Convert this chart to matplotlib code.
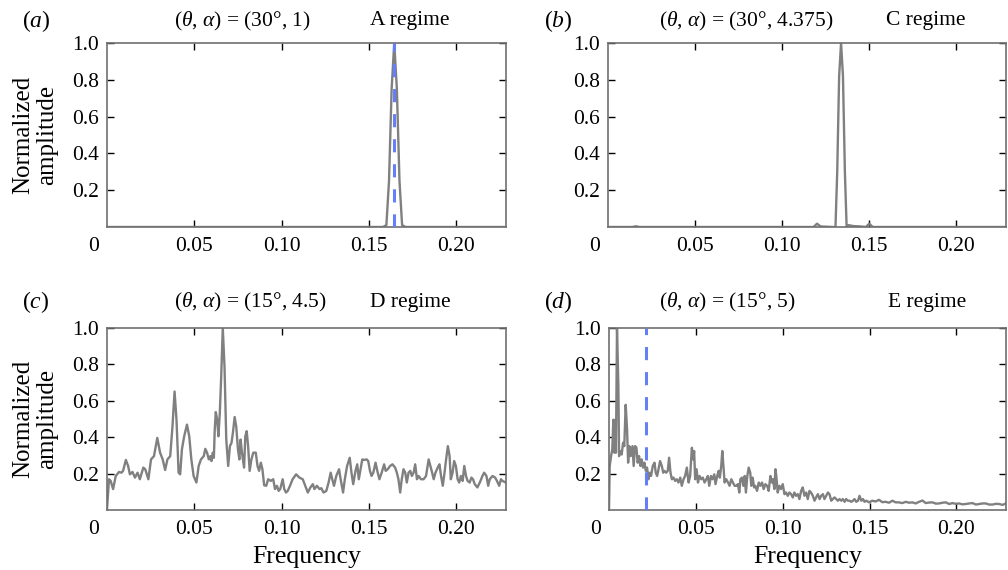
import numpy as np
import matplotlib
matplotlib.use("Agg")
import matplotlib.pyplot as plt

plt.rcParams['font.family'] = ['Liberation Serif', 'DejaVu Serif']
plt.rcParams['mathtext.fontset'] = 'custom'
plt.rcParams['mathtext.rm'] = 'Liberation Serif'
plt.rcParams['mathtext.it'] = 'Liberation Serif:italic'

# ---------------- data ----------------
# (a) 30 deg, alpha = 1 : single sharp peak
freq_a = [0.0, 0.1580, 0.1600, 0.1615, 0.1630, 0.1645, 0.1660, 0.1675, 0.1690, 0.1710, 0.2285]
amp_a = [0.0, 0.0, 0.01, 0.25, 0.75, 1.0, 0.75, 0.25, 0.01, 0.0, 0.0]
mark_a = 0.1645

# (b) 30 deg, alpha = 4.375
freq_b = [0.0, 0.0140, 0.0160, 0.0180, 0.0300, 0.1180, 0.1200, 0.1220, 0.1290, 0.1306,
          0.1316, 0.1327, 0.1338, 0.1349, 0.1360, 0.1370, 0.1380, 0.1410, 0.1450, 0.1480,
          0.1500, 0.1520, 0.2285]
amp_b = [0.0, 0.0, 0.004, 0.0, 0.0, 0.0, 0.018, 0.003, 0.0, 0.0,
         0.30, 0.82, 1.0, 0.82, 0.30, 0.0, 0.01, 0.005, 0.003, 0.0,
         0.018, 0.0, 0.0]

# (c) 15 deg, alpha = 4.5
freq_c = [0.0, 0.00115, 0.0021, 0.0035, 0.0050, 0.0069, 0.0083, 0.0092, 0.0108, 0.0121,
          0.0131, 0.0146, 0.0160, 0.0175, 0.0188, 0.0208, 0.0219, 0.0237, 0.0252, 0.0269,
          0.0288, 0.0304, 0.0319, 0.0333, 0.0346, 0.0362, 0.0375, 0.0387, 0.0398, 0.0410,
          0.0419, 0.0429, 0.0442, 0.0458, 0.0471, 0.0483, 0.0496, 0.0512, 0.0525, 0.0538,
          0.0554, 0.0563, 0.0573, 0.0583, 0.0592, 0.0598, 0.0606, 0.0612, 0.0617, 0.0623,
          0.0631, 0.0638, 0.0646, 0.0654, 0.0663, 0.0673, 0.0683, 0.0694, 0.0704, 0.0713,
          0.0721, 0.0731, 0.0740, 0.0750, 0.0758, 0.0765, 0.0773, 0.0785, 0.0792, 0.0800,
          0.0808, 0.0817, 0.0827, 0.0838, 0.0852, 0.0862, 0.0871, 0.0881, 0.0890, 0.0900,
          0.0912, 0.0923, 0.0938, 0.0952, 0.0962, 0.0973, 0.0983, 0.0992, 0.1006, 0.1015,
          0.1025, 0.1035, 0.1048, 0.1063, 0.1083, 0.1102, 0.1121, 0.1135, 0.1150, 0.1165,
          0.1179, 0.1188, 0.1202, 0.1217, 0.1227, 0.1240, 0.1256, 0.1269, 0.1281, 0.1290,
          0.1300, 0.1313, 0.1329, 0.1338, 0.1352, 0.1362, 0.1375, 0.1390, 0.1400, 0.1410,
          0.1423, 0.1433, 0.1442, 0.1452, 0.1462, 0.1473, 0.1487, 0.1496, 0.1506, 0.1515,
          0.1525, 0.1538, 0.1548, 0.1560, 0.1573, 0.1587, 0.1596, 0.1608, 0.1621, 0.1635,
          0.1650, 0.1660, 0.1669, 0.1679, 0.1688, 0.1698, 0.1708, 0.1717, 0.1727, 0.1737,
          0.1746, 0.1756, 0.1765, 0.1775, 0.1785, 0.1798, 0.1813, 0.1827, 0.1842, 0.1852,
          0.1862, 0.1871, 0.1881, 0.1894, 0.1904, 0.1913, 0.1923, 0.1933, 0.1942, 0.1952,
          0.1962, 0.1969, 0.1979, 0.1988, 0.1998, 0.2008, 0.2017, 0.2027, 0.2037, 0.2046,
          0.2056, 0.2065, 0.2077, 0.2087, 0.2096, 0.2106, 0.2121, 0.2135, 0.2150, 0.2160,
          0.2173, 0.2183, 0.2192, 0.2208, 0.2223, 0.2233, 0.2246, 0.2256, 0.2265, 0.2285]
amp_c = [0.005, 0.169, 0.160, 0.115, 0.187, 0.209, 0.205, 0.215, 0.275, 0.242,
         0.196, 0.209, 0.178, 0.205, 0.169, 0.233, 0.224, 0.169, 0.278, 0.296,
         0.396, 0.315, 0.278, 0.220, 0.278, 0.296, 0.460, 0.651, 0.496, 0.205,
         0.196, 0.333, 0.405, 0.469, 0.405, 0.278, 0.187, 0.151, 0.242, 0.278,
         0.296, 0.336, 0.315, 0.278, 0.296, 0.269, 0.315, 0.287, 0.442, 0.538,
         0.496, 0.405, 0.533, 0.733, 1.000, 0.787, 0.387, 0.242, 0.351, 0.369,
         0.424, 0.511, 0.460, 0.333, 0.278, 0.387, 0.315, 0.233, 0.405, 0.433,
         0.351, 0.215, 0.278, 0.315, 0.315, 0.242, 0.215, 0.260, 0.224, 0.136,
         0.133, 0.169, 0.160, 0.169, 0.115, 0.133, 0.105, 0.115, 0.169, 0.115,
         0.096, 0.105, 0.133, 0.169, 0.196, 0.178, 0.169, 0.133, 0.096, 0.124,
         0.142, 0.115, 0.133, 0.115, 0.120, 0.096, 0.105, 0.151, 0.205, 0.169,
         0.133, 0.187, 0.224, 0.169, 0.096, 0.169, 0.242, 0.287, 0.205, 0.142,
         0.215, 0.251, 0.169, 0.224, 0.278, 0.275, 0.278, 0.269, 0.215, 0.187,
         0.205, 0.260, 0.215, 0.169, 0.205, 0.251, 0.215, 0.224, 0.242, 0.251,
         0.233, 0.205, 0.169, 0.096, 0.169, 0.224, 0.205, 0.151, 0.205, 0.215,
         0.187, 0.205, 0.251, 0.169, 0.187, 0.169, 0.169, 0.187, 0.278, 0.242,
         0.205, 0.169, 0.205, 0.233, 0.251, 0.187, 0.133, 0.205, 0.278, 0.351,
         0.296, 0.169, 0.205, 0.269, 0.242, 0.169, 0.151, 0.187, 0.160, 0.242,
         0.187, 0.160, 0.151, 0.178, 0.169, 0.142, 0.124, 0.151, 0.187, 0.205,
         0.187, 0.133, 0.169, 0.187, 0.178, 0.160, 0.133, 0.169, 0.160, 0.150]

# (d) 15 deg, alpha = 5
freq_d = [0.0, 0.0004, 0.0012, 0.0019, 0.0025, 0.0031, 0.0037, 0.0040, 0.0046, 0.0054,
          0.0058, 0.0065, 0.0073, 0.0081, 0.0088, 0.0096, 0.0104, 0.0110, 0.0117, 0.0125,
          0.0135, 0.0142, 0.0150, 0.0158, 0.0165, 0.0173, 0.0181, 0.0188, 0.0196, 0.0204,
          0.0212, 0.0219, 0.0227, 0.0235, 0.0242, 0.0252, 0.0262, 0.0269, 0.0277, 0.0285,
          0.0294, 0.0304, 0.0312, 0.0319, 0.0329, 0.0338, 0.0346, 0.0354, 0.0362, 0.0371,
          0.0381, 0.0390, 0.0400, 0.0410, 0.0419, 0.0429, 0.0438, 0.0448, 0.0458, 0.0467,
          0.0477, 0.0485, 0.0490, 0.0496, 0.0504, 0.0512, 0.0521, 0.0531, 0.0540, 0.0550,
          0.0560, 0.0569, 0.0577, 0.0587, 0.0596, 0.0606, 0.0613, 0.0623, 0.0631, 0.0638,
          0.0646, 0.0652, 0.0660, 0.0665, 0.0675, 0.0685, 0.0694, 0.0704, 0.0713, 0.0723,
          0.0733, 0.0742, 0.0750, 0.0756, 0.0765, 0.0773, 0.0781, 0.0788, 0.0796, 0.0804,
          0.0813, 0.0819, 0.0827, 0.0835, 0.0842, 0.0852, 0.0862, 0.0871, 0.0881, 0.0890,
          0.0900, 0.0910, 0.0919, 0.0929, 0.0938, 0.0944, 0.0952, 0.0958, 0.0963, 0.0971,
          0.0981, 0.0990, 0.1000, 0.1010, 0.1019, 0.1029, 0.1038, 0.1048, 0.1058, 0.1067,
          0.1077, 0.1087, 0.1096, 0.1106, 0.1115, 0.1125, 0.1135, 0.1144, 0.1154, 0.1163,
          0.1173, 0.1183, 0.1192, 0.1202, 0.1212, 0.1221, 0.1231, 0.1240, 0.1250, 0.1260,
          0.1269, 0.1279, 0.1288, 0.1298, 0.1308, 0.1317, 0.1327, 0.1337, 0.1346, 0.1356,
          0.1365, 0.1375, 0.1385, 0.1394, 0.1404, 0.1413, 0.1423, 0.1433, 0.1442, 0.1452,
          0.1462, 0.1471, 0.1481, 0.1498, 0.1515, 0.1535, 0.1554, 0.1573, 0.1592, 0.1612,
          0.1631, 0.1650, 0.1669, 0.1688, 0.1708, 0.1727, 0.1746, 0.1765, 0.1785, 0.1804,
          0.1823, 0.1842, 0.1862, 0.1881, 0.1900, 0.1919, 0.1938, 0.1958, 0.1977, 0.1996,
          0.2015, 0.2035, 0.2054, 0.2073, 0.2092, 0.2112, 0.2131, 0.2150, 0.2169, 0.2188,
          0.2208, 0.2227, 0.2246, 0.2265, 0.2285]
amp_d = [0.005, 0.242, 0.296, 0.333, 0.496, 0.315, 0.496, 0.315, 1.000, 0.678,
         0.296, 0.324, 0.305, 0.369, 0.351, 0.578, 0.442, 0.260, 0.351, 0.296,
         0.351, 0.242, 0.351, 0.342, 0.260, 0.296, 0.242, 0.278, 0.233, 0.260,
         0.215, 0.233, 0.169, 0.205, 0.187, 0.242, 0.260, 0.205, 0.187, 0.224,
         0.269, 0.242, 0.205, 0.215, 0.205, 0.215, 0.287, 0.205, 0.169, 0.178,
         0.160, 0.169, 0.151, 0.178, 0.133, 0.169, 0.187, 0.233, 0.151, 0.187,
         0.342, 0.278, 0.324, 0.169, 0.224, 0.151, 0.187, 0.169, 0.178, 0.151,
         0.169, 0.187, 0.133, 0.187, 0.169, 0.196, 0.142, 0.187, 0.215, 0.178,
         0.242, 0.324, 0.224, 0.151, 0.169, 0.151, 0.133, 0.169, 0.151, 0.133,
         0.133, 0.142, 0.096, 0.169, 0.178, 0.133, 0.187, 0.096, 0.187, 0.233,
         0.205, 0.133, 0.178, 0.124, 0.133, 0.105, 0.151, 0.133, 0.151, 0.115,
         0.142, 0.133, 0.105, 0.187, 0.151, 0.169, 0.115, 0.224, 0.187, 0.096,
         0.133, 0.115, 0.142, 0.087, 0.096, 0.078, 0.096, 0.087, 0.069, 0.096,
         0.078, 0.087, 0.060, 0.105, 0.124, 0.078, 0.096, 0.060, 0.105, 0.096,
         0.078, 0.051, 0.069, 0.087, 0.060, 0.078, 0.087, 0.060, 0.078, 0.096,
         0.087, 0.051, 0.060, 0.069, 0.060, 0.051, 0.060, 0.051, 0.060, 0.045,
         0.060, 0.051, 0.051, 0.045, 0.051, 0.060, 0.045, 0.051, 0.078, 0.051,
         0.060, 0.045, 0.051, 0.042, 0.051, 0.047, 0.056, 0.043, 0.045, 0.040,
         0.051, 0.042, 0.042, 0.038, 0.045, 0.040, 0.042, 0.036, 0.045, 0.052,
         0.038, 0.041, 0.042, 0.035, 0.036, 0.040, 0.042, 0.033, 0.038, 0.034,
         0.036, 0.031, 0.033, 0.036, 0.038, 0.030, 0.033, 0.036, 0.036, 0.030,
         0.030, 0.034, 0.033, 0.028, 0.036]
mark_d = 0.0212

panels = [
    ("($a$)", "($\\theta$, $\\alpha$) = (30°, 1)", "A regime", freq_a, amp_a, mark_a),
    ("($b$)", "($\\theta$, $\\alpha$) = (30°, 4.375)", "C regime", freq_b, amp_b, None),
    ("($c$)", "($\\theta$, $\\alpha$) = (15°, 4.5)", "D regime", freq_c, amp_c, None),
    ("($d$)", "($\\theta$, $\\alpha$) = (15°, 5)", "E regime", freq_d, amp_d, mark_d),
]

x_ticks = [0.05, 0.10, 0.15, 0.20]
x_ticklabels = ["0.05", "0.10", "0.15", "0.20"]
y_ticks = [0.2, 0.4, 0.6, 0.8, 1.0]
y_ticklabels = ["0.2", "0.4", "0.6", "0.8", "1.0"]

# ---------------- layout (pixels of a 1008x570 canvas) ----------------
W, H = 1008, 570
fig = plt.figure(figsize=(W / 100, H / 100), dpi=100)

boxes = [(107, 43, 506, 227), (608, 43, 1006, 227),
         (107, 328, 506, 510), (609, 328, 1006, 510)]
label_x = [36, 558, 36, 558]
title_x = [242, 746, 250, 727]
regime_x = [410, 926, 410, 927]
text_y = [21, 21, 302, 302]

line_grey = '#808080'
spine_grey = '#707070'
dash_blue = '#667ef6'
tick_fs = 15.5

for i, (lab, ttl, reg, fx, ay, mark) in enumerate(panels):
    l, t, r, b = boxes[i]
    ax = fig.add_axes([l / W, 1 - b / H, (r - l) / W, (b - t) / H])
    ax.plot(fx, ay, color=line_grey, lw=1.7, zorder=2)
    if mark is not None:
        ax.plot([mark, mark], [0, 1], color=dash_blue, lw=2.2,
                linestyle=(0, (4.3, 3.9)), dash_capstyle='butt', zorder=3)
    ax.set_xlim(0, 0.2285)
    ax.set_ylim(0, 1.0)
    ax.set_xticks(x_ticks)
    ax.set_xticklabels(x_ticklabels)
    ax.set_yticks(y_ticks)
    ax.set_yticklabels(y_ticklabels)
    ax.tick_params(direction='in', length=5, width=1, colors='black',
                   top=True, right=True, labelsize=tick_fs)
    ax.tick_params(axis='x', pad=7)
    ax.tick_params(axis='y', pad=6)
    for s in ax.spines.values():
        s.set_color(spine_grey)
        s.set_linewidth(1.2)
    ax.annotate("0", xy=(0, 0), xycoords='axes fraction', xytext=(-8, -10),
                textcoords='offset pixels', ha='right', va='top', fontsize=tick_fs)

    fig.text(label_x[i] / W, 1 - text_y[i] / H, lab, ha='center', va='center', fontsize=17)
    fig.text(title_x[i] / W, 1 - text_y[i] / H, ttl, ha='center', va='center', fontsize=15.5)
    fig.text(regime_x[i] / W, 1 - text_y[i] / H, reg, ha='center', va='center', fontsize=15.5)

    if i % 2 == 0:
        fig.text(35 / W, 1 - (t + b) / 2 / H, "Normalized\namplitude", rotation=90,
                 ha='center', va='center', fontsize=18, linespacing=1.15)
    if i >= 2:
        fig.text((l + r) / 2 / W, 1 - 563 / H, "Frequency", ha='center',
                 va='baseline', fontsize=18.5)

fig.savefig("out.png", dpi=100)
